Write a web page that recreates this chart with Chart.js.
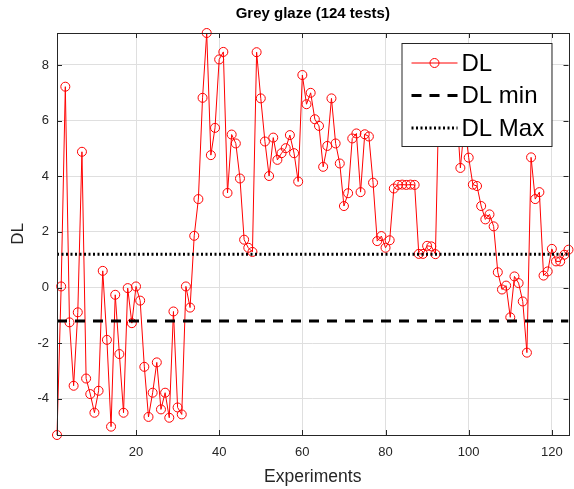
<!DOCTYPE html>
<html>
<head>
<meta charset="utf-8">
<script src="https://cdn.jsdelivr.net/npm/chart.js@4.4.1/dist/chart.umd.min.js"></script>
<style>
  html, body { margin: 0; padding: 0; background: #fff; }
</style>
</head>
<body>
<canvas id="dlChart" width="574" height="489"></canvas>
<script>
const dlValues = [
  -5.30, 0.04, 7.22, -1.25, -3.53, -0.89, 4.88, -3.27, -3.83, -4.50,
  -3.71, 0.60, -1.88, -5.00, -0.26, -2.39, -4.50, -0.02, -1.28, 0.04,
  -0.47, -2.85, -4.65, -3.78, -2.69, -4.38, -3.78, -4.68, -0.86, -4.31,
  -4.56, 0.04, -0.72, 1.86, 3.18, 6.82, 9.15, 4.76, 5.74, 8.20,
  8.47, 3.40, 5.50, 5.18, 3.92, 1.72, 1.43, 1.28, 8.46, 6.80,
  5.25, 4.01, 5.39, 4.59, 4.83, 5.01, 5.48, 4.83, 3.81, 7.64,
  6.59, 7.00, 6.05, 5.81, 4.34, 5.09, 6.80, 5.18, 4.46, 2.93,
  3.39, 5.36, 5.54, 3.43, 5.51, 5.43, 3.77, 1.67, 1.85, 1.43,
  1.70, 3.56, 3.69, 3.70, 3.69, 3.70, 3.69, 1.21, 1.21, 1.50,
  1.48, 1.20, 7.90, 6.90, 7.40, 6.20, 6.60, 4.30, 5.90, 4.67,
  3.70, 3.65, 2.93, 2.45, 2.63, 2.20, 0.55, -0.07, 0.07, -1.07,
  0.40, 0.16, -0.50, -2.34, 4.68, 3.18, 3.43, 0.43, 0.58, 1.39,
  0.94, 0.94, 1.18, 1.36
];
const dlMin = -1.2;
const dlMax = 1.2;
const xTicks = [20, 40, 60, 80, 100, 120];
const yTicks = [-4, -2, 0, 2, 4, 6, 8];

const axisColor = '#262626';
const gridColor = '#dfdfdf';
const fontFamily = '"Liberation Sans", Arial, Helvetica, sans-serif';

const firstExp = 1;
const lastExp = dlValues.length;

// legend box drawn inside the axes, like the MATLAB one
const boxLegend = {
  id: 'boxLegend',
  afterDatasetsDraw(chart) {
    const ctx = chart.ctx;
    const area = chart.chartArea;
    const w = 150, h = 103;
    const x0 = area.right - 167, y0 = area.top + 10;
    ctx.save();
    ctx.fillStyle = '#fff';
    ctx.fillRect(x0, y0, w, h);
    ctx.strokeStyle = axisColor;
    ctx.lineWidth = 1;
    ctx.setLineDash([]);
    ctx.strokeRect(x0 + 0.5, y0 + 0.5, w, h);
    chart.data.datasets.forEach((ds, i) => {
      const y = y0 + 20 + i * 32.5;
      ctx.strokeStyle = ds.borderColor;
      ctx.lineWidth = ds.borderWidth;
      ctx.setLineDash(ds.borderDash || []);
      ctx.beginPath();
      ctx.moveTo(x0 + 10, y);
      ctx.lineTo(x0 + 56, y);
      ctx.stroke();
      if (ds.pointRadius > 0) {
        ctx.setLineDash([]);
        ctx.lineWidth = 1;
        ctx.beginPath();
        ctx.arc(x0 + 33, y, ds.pointRadius, 0, Math.PI * 2);
        ctx.stroke();
      }
      ctx.fillStyle = '#000';
      ctx.font = '24px ' + fontFamily;
      ctx.textBaseline = 'middle';
      ctx.textAlign = 'left';
      ctx.fillText(ds.label, x0 + 60, y + 1);
    });
    ctx.restore();
  },
  // box around the axes with inward tick marks on all four sides
  afterDraw(chart) {
    const ctx = chart.ctx;
    const a = chart.chartArea;
    const xs = chart.scales.x, ys = chart.scales.y;
    ctx.save();
    ctx.strokeStyle = axisColor;
    ctx.lineWidth = 1;
    ctx.beginPath();
    xTicks.forEach(v => {
      const px = Math.round(xs.getPixelForValue(v)) + 0.5;
      ctx.moveTo(px, a.bottom); ctx.lineTo(px, a.bottom - 5);
      ctx.moveTo(px, a.top); ctx.lineTo(px, a.top + 5);
    });
    yTicks.forEach(v => {
      const py = Math.round(ys.getPixelForValue(v)) + 0.5;
      ctx.moveTo(a.left, py); ctx.lineTo(a.left + 5, py);
      ctx.moveTo(a.right, py); ctx.lineTo(a.right - 5, py);
    });
    ctx.stroke();
    ctx.strokeRect(Math.round(a.left) + 0.5, Math.round(a.top) + 0.5,
                   Math.round(a.right - a.left), Math.round(a.bottom - a.top));
    ctx.restore();
  }
};

const ctx = document.getElementById('dlChart').getContext('2d');

new Chart(ctx, {
  type: 'line',
  data: {
    datasets: [{
      label: 'DL',
      data: dlValues.map((v, i) => ({ x: i + 1, y: v })),
      borderColor: '#ff0000',
      borderWidth: 1,
      pointRadius: 4.5,
      pointHoverRadius: 4.5,
      pointBorderWidth: 1,
      pointBorderColor: '#ff0000',
      pointBackgroundColor: 'rgba(0,0,0,0)',
      tension: 0,
      clip: false,
      order: 3
    }, {
      label: 'DL min',
      data: [{ x: firstExp, y: dlMin }, { x: lastExp, y: dlMin }],
      borderColor: '#000',
      borderWidth: 3,
      borderDash: [10, 8],
      pointRadius: 0,
      order: 2
    }, {
      label: 'DL Max',
      data: [{ x: firstExp, y: dlMax }, { x: lastExp, y: dlMax }],
      borderColor: '#000',
      borderWidth: 3,
      borderDash: [2, 2.5],
      pointRadius: 0,
      order: 1
    }]
  },
  options: {
    responsive: false,
    animation: false,
    layout: { padding: { left: 0, right: 5, top: 0, bottom: 0 } },
    scales: {
      x: {
        type: 'linear',
        min: firstExp,
        max: lastExp,
        afterBuildTicks: s => { s.ticks = xTicks.map(v => ({ value: v })); },
        afterFit: s => { s.height = 54; },
        grid: { color: gridColor, drawTicks: false },
        border: { display: false },
        ticks: { color: axisColor, padding: 10, font: { family: fontFamily, size: 13 } },
        title: {
          display: true,
          text: 'Experiments',
          color: axisColor,
          font: { family: fontFamily, size: 17.5 },
          padding: { top: 0, bottom: 1 }
        }
      },
      y: {
        type: 'linear',
        min: Math.min(...dlValues),
        max: Math.max(...dlValues),
        afterBuildTicks: s => { s.ticks = yTicks.map(v => ({ value: v })); },
        afterFit: s => { s.width = 57; },
        grid: { color: gridColor, drawTicks: false },
        border: { display: false },
        ticks: { color: axisColor, padding: 8, font: { family: fontFamily, size: 13 } },
        title: {
          display: true,
          text: 'DL',
          color: axisColor,
          font: { family: fontFamily, size: 17 },
          padding: { top: 8, bottom: 0 }
        }
      }
    },
    plugins: {
      legend: { display: false },
      tooltip: { enabled: false },
      title: {
        display: true,
        fullSize: false,
        text: 'Grey glaze (124 tests)',
        color: '#000',
        font: { family: fontFamily, size: 15, weight: 'bold' },
        padding: { top: 5, bottom: 10 }
      }
    }
  },
  plugins: [boxLegend]
});
</script>
</body>
</html>
